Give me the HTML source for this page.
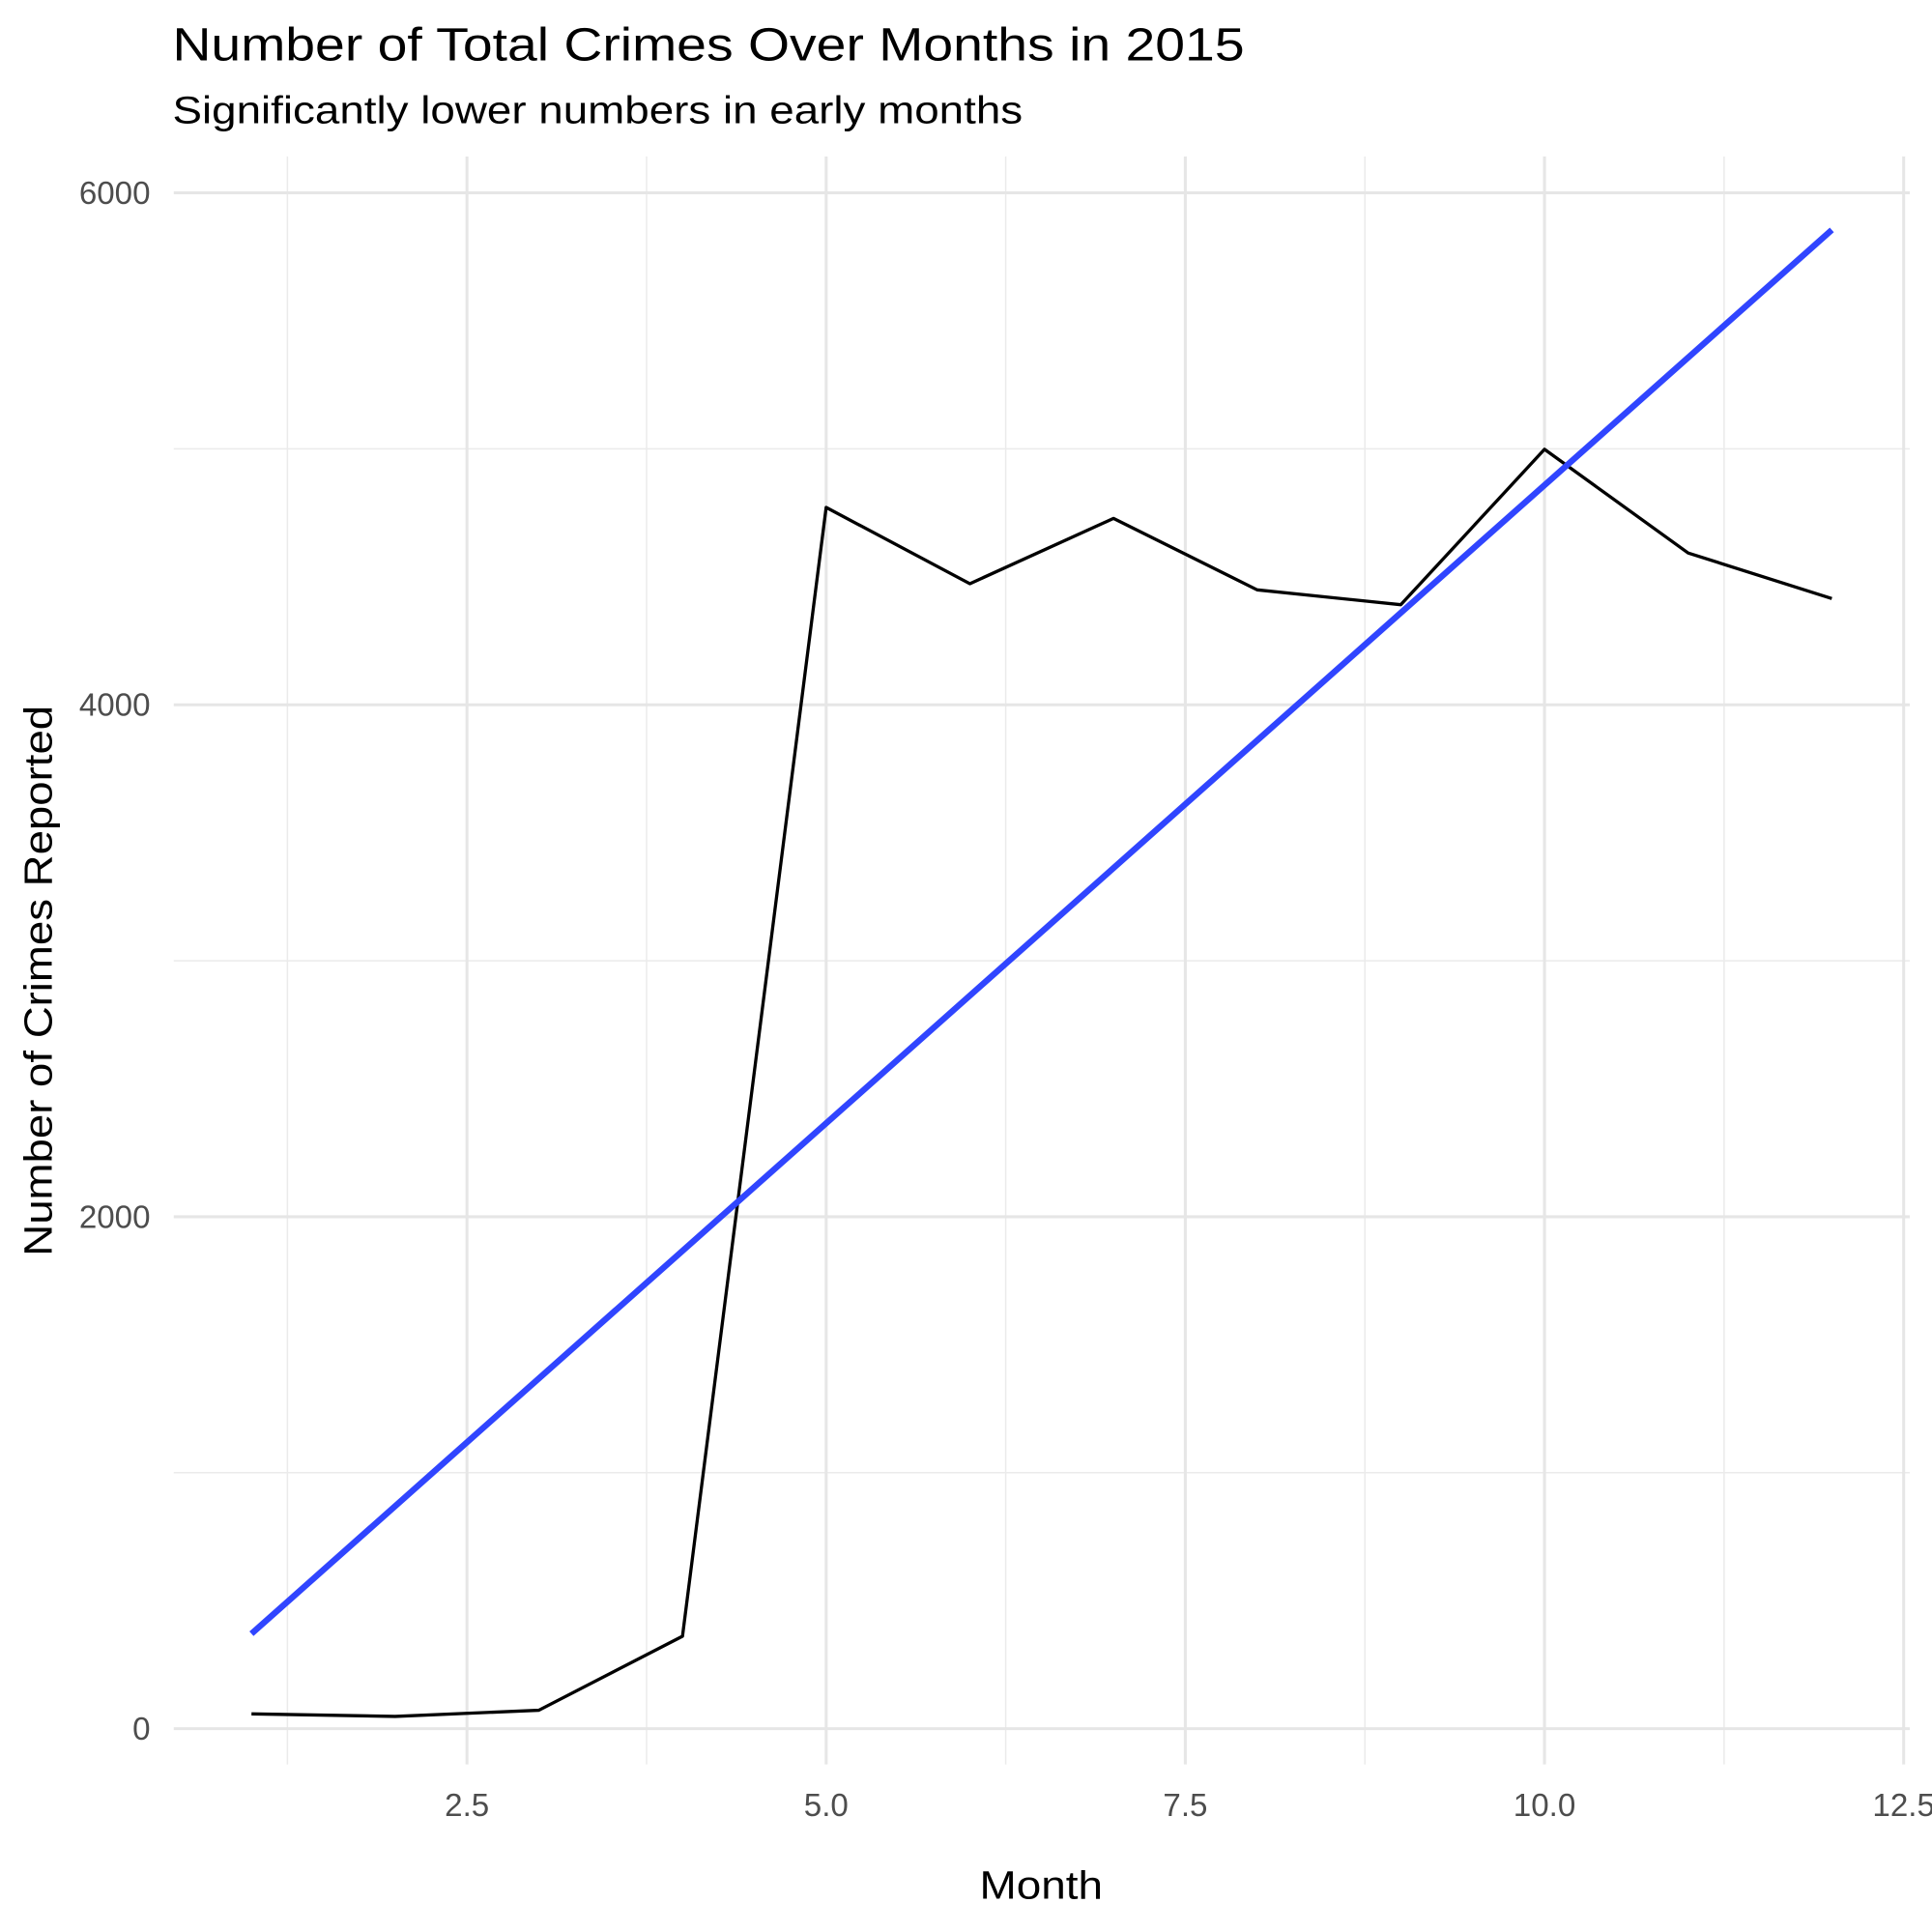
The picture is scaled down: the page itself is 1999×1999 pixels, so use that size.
<!DOCTYPE html>
<html><head><meta charset="utf-8"><style>
html,body{margin:0;padding:0;background:#fff;}
svg{display:block;font-family:"Liberation Sans",Arial,sans-serif;}
</style></head><body>
<svg width="1999" height="1999" viewBox="0 0 1568 1568" xmlns="http://www.w3.org/2000/svg">
<g id="grid"></g>
<g id="marks"></g>
<g id="axes"></g>
<text x="140" y="49" font-size="38" textLength="870" lengthAdjust="spacingAndGlyphs" fill="#000">Number of Total Crimes Over Months in 2015</text>
<text x="140" y="100" font-size="31" textLength="690" lengthAdjust="spacingAndGlyphs" fill="#000">Significantly lower numbers in early months</text>
<text x="845" y="1541" font-size="32" textLength="100" lengthAdjust="spacingAndGlyphs" text-anchor="middle" fill="#000">Month</text>
<text transform="translate(42,796) rotate(-90)" font-size="32" textLength="447" lengthAdjust="spacingAndGlyphs" text-anchor="middle" fill="#000">Number of Crimes Reported</text>
</svg>
<script>
const months = [1,2,3,4,5,6,7,8,9,10,11,12];
const crimes = [58,48,72,361,4771,4473,4728,4449,4391,4998,4593,4415];
const trendStart = [1,371];
const trendEnd = [12,5855];
const xTicks = [2.5,5.0,7.5,10.0,12.5];
const xTickLabels = ["2.5","5.0","7.5","10.0","12.5"];
const yTicks = [0,2000,4000,6000];
const yTickLabels = ["0","2000","4000","6000"];
const xMinor = [1.25,3.75,6.25,8.75,11.25];
const yMinor = [1000,3000,5000];

const X = m => 379 + (m-2.5)*116.6;
const Y = v => 1403 - v*0.20775;
const NS = "http://www.w3.org/2000/svg";
function mk(tag, attrs, parent){const e=document.createElementNS(NS,tag);for(const k in attrs)e.setAttribute(k,attrs[k]);parent.appendChild(e);return e;}
const grid=document.getElementById('grid'), marks=document.getElementById('marks'), axes=document.getElementById('axes');
const L=141,R=1550,T=127,B=1432;
xMinor.forEach(m=>{const e=mk('line',{x1:X(m),x2:X(m),y1:T,y2:B,stroke:'#ebebeb','stroke-width':1.2},grid);

});
yMinor.forEach(v=>{const e=mk('line',{x1:L,x2:R,y1:Y(v),y2:Y(v),stroke:'#ebebeb','stroke-width':1.2},grid);

});
xTicks.forEach((m,i)=>{const e=mk('line',{x1:X(m),x2:X(m),y1:T,y2:B,stroke:'#e6e6e6','stroke-width':2.4},grid);


const t=mk('text',{x:X(m),y:1474,'font-size':26,'text-anchor':'middle',fill:'#4d4d4d'},axes);t.textContent=xTickLabels[i];

});
yTicks.forEach((v,i)=>{const e=mk('line',{x1:L,x2:R,y1:Y(v),y2:Y(v),stroke:'#e6e6e6','stroke-width':2.4},grid);


const t=mk('text',{x:122,y:Y(v)+9,'font-size':26,'text-anchor':'end',fill:'#4d4d4d'},axes);t.textContent=yTickLabels[i];

});
const pts=months.map((m,i)=>X(m)+','+Y(crimes[i])).join(' ');
const pl=mk('polyline',{points:pts,fill:'none',stroke:'#000','stroke-width':2.6,'stroke-linejoin':'round'},marks);


const tl=mk('line',{x1:X(trendStart[0]),y1:Y(trendStart[1]),x2:X(trendEnd[0]),y2:Y(trendEnd[1]),stroke:'#3045ff','stroke-width':5},marks);


</script>
</body></html>
